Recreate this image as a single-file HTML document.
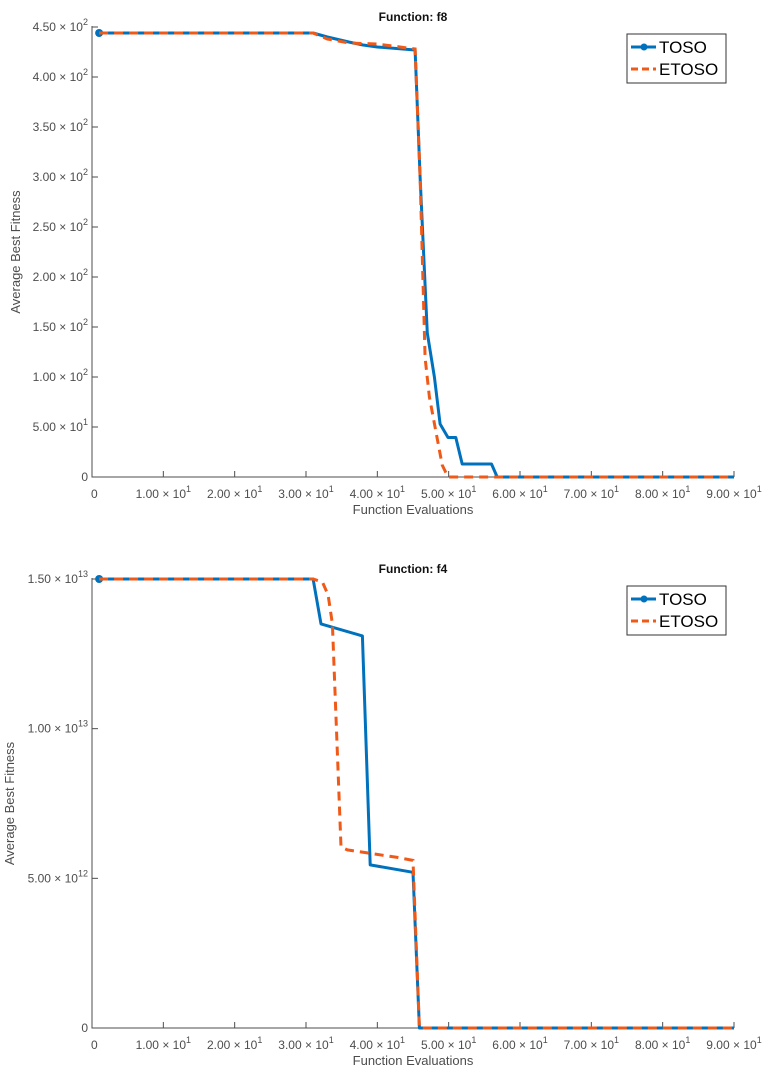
<!DOCTYPE html>
<html><head><meta charset="utf-8"><style>
body{margin:0;background:#fff;}
svg{display:block;font-family:"Liberation Sans",Arial,sans-serif;}
</style></head><body>
<svg id="fig" width="774" height="1081"></svg>
<script>
const xTicks=[0,10,20,30,40,50,60,70,80,90];
const f8TosoX=[1,31,33,36,38,40,45.3,46,47,48,48.8,49.9,51,51.9,56,56.8,90];
const f8TosoY=[444,444,440,435,432,430,427,300,144,100,53,39.5,39.5,13,13,0,0];
const f8EtosoX=[1,31,33,36,40,45.3,46,46.7,47.3,49.1,49.9,90];
const f8EtosoY=[444,444,438,434,433,428,300,119,80,12,0,0];
const f8YTicks=[0,50,100,150,200,250,300,350,400,450];
const f8YLabels=["0","5.00 × 10|1","1.00 × 10|2","1.50 × 10|2","2.00 × 10|2","2.50 × 10|2","3.00 × 10|2","3.50 × 10|2","4.00 × 10|2","4.50 × 10|2"];
const f4TosoX=[1,31,32.1,37.9,39,45,45.9,90];
const f4TosoY=[15,15,13.5,13.1,5.45,5.2,0,0];
const f4EtosoX=[1,31,32.3,33.1,33.7,34.9,35.8,38.6,42.8,45,45.9,90];
const f4EtosoY=[15,15,14.9,14.47,13.5,6.05,5.95,5.85,5.7,5.6,0,0];
const f4YTicks=[0,5,10,15];
const f4YLabels=["0","5.00 × 10|12","1.00 × 10|13","1.50 × 10|13"];
const xLabels=["0","1.00 × 10|1","2.00 × 10|1","3.00 × 10|1","4.00 × 10|1","5.00 × 10|1","6.00 × 10|1","7.00 × 10|1","8.00 × 10|1","9.00 × 10|1"];

const NS="http://www.w3.org/2000/svg";
const fig=document.getElementById('fig');
function mk(tag,attrs,parent){const e=document.createElementNS(NS,tag);for(const k in attrs)e.setAttribute(k,attrs[k]);(parent||fig).appendChild(e);return e;}
function label(txt,x,y,anchor,g){
  const t=mk('text',{x:x,y:y,'text-anchor':anchor,'font-size':12,fill:'#4d4d4d'},g);
  const p=txt.split('|');
  t.appendChild(document.createTextNode(p[0]));
  if(p[1]){const s=mk('tspan',{dy:-6,'font-size':9},t);s.textContent=p[1];}
  return t;
}
function chart(cfg){
  const g=mk('g',{});
  
  
  const X0=92,X1=734,Y0=cfg.y0,Y1=cfg.y1;
  const sx=v=>X0+(v-0)/90*(X1-X0);
  const sy=v=>Y0-(v/cfg.ymax)*(Y0-Y1);
  const ax=mk('path',{d:`M${X0},${Y1-1}V${Y0}H${X1}`,stroke:'#4d4d4d','stroke-width':1,fill:'none'},g);
  
  
  xTicks.forEach((v,i)=>{
    if(i>0)mk('line',{x1:sx(v),x2:sx(v),y1:Y0,y2:Y0-6,stroke:'#4d4d4d'},g);
    const t=label(xLabels[i],i==0?sx(v)-1:sx(v),Y0+21,i==0?'start':'middle',g);
    
    
  });
  cfg.yTicks.forEach((v,i)=>{
    if(i>0)mk('line',{x1:X0,x2:X0+6,y1:sy(v),y2:sy(v),stroke:'#4d4d4d'},g);
    const t=label(cfg.yLabels[i],X0-4,sy(v)+4,'end',g);
    
    
  });
  const xt=mk('text',{x:413,y:Y0+37,'text-anchor':'middle','font-size':13,fill:'#4d4d4d'},g);
  xt.textContent='Function Evaluations';
  
  
  const yt=mk('text',{x:0,y:0,'text-anchor':'middle','font-size':13,fill:'#4d4d4d',transform:`translate(${cfg.ytx},${(Y0+Y1)/2}) rotate(-90)`},g);
  yt.textContent='Average Best Fitness';
  
  
  const tt=mk('text',{x:413,y:Y1-6,'text-anchor':'middle','font-size':12,'font-weight':'bold',fill:'#111'},g);
  tt.textContent=cfg.title;
  
  
  const pts=(xs,ys)=>xs.map((x,i)=>sx(x).toFixed(1)+','+sy(ys[i]).toFixed(1)).join(' ');
  const l1=mk('polyline',{points:pts(cfg.tx,cfg.ty),fill:'none',stroke:'#0072BD','stroke-width':3,'stroke-linejoin':'round'},g);
  
  
  const c1=mk('circle',{cx:sx(cfg.tx[0]),cy:sy(cfg.ty[0]),r:4,fill:'#0072BD'},g);
  
  
  const l2=mk('polyline',{points:pts(cfg.ex,cfg.ey),fill:'none',stroke:'#F05A19','stroke-width':3,'stroke-dasharray':'9,6'},g);
  
  
  const lg=mk('g',{},g);
  
  
  const ly=cfg.ly;
  mk('rect',{x:627,y:ly,width:99,height:49,fill:'#fff',stroke:'#333','stroke-width':1},lg);
  mk('line',{x1:631,x2:656,y1:ly+13,y2:ly+13,stroke:'#0072BD','stroke-width':3},lg);
  mk('circle',{cx:644,cy:ly+13,r:3.5,fill:'#0072BD'},lg);
  const a=mk('text',{x:659,y:ly+19,'font-size':17,fill:'#000'},lg);a.textContent='TOSO';
  
  
  mk('line',{x1:631,x2:656,y1:ly+35,y2:ly+35,stroke:'#F05A19','stroke-width':3,'stroke-dasharray':'7,4'},lg);
  const b=mk('text',{x:659,y:ly+41,'font-size':17,fill:'#000'},lg);b.textContent='ETOSO';
  
  
}
chart({name:'chart-f8',title:'Function: f8',y0:477,y1:27,ymax:450,yTicks:f8YTicks,yLabels:f8YLabels,tx:f8TosoX,ty:f8TosoY,ex:f8EtosoX,ey:f8EtosoY,ly:34,ytx:20});
chart({name:'chart-f4',title:'Function: f4',y0:1028,y1:579,ymax:15,yTicks:f4YTicks,yLabels:f4YLabels,tx:f4TosoX,ty:f4TosoY,ex:f4EtosoX,ey:f4EtosoY,ly:586,ytx:14});
</script>
</body></html>
